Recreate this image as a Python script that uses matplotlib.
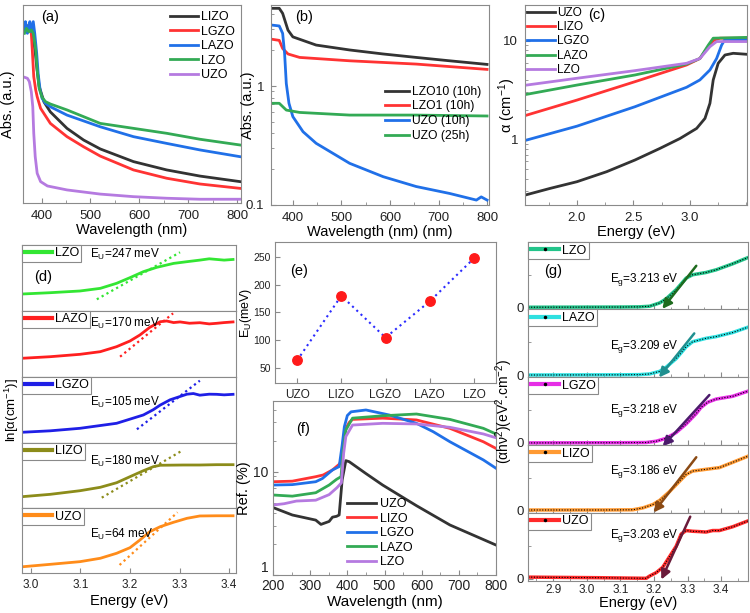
import matplotlib
matplotlib.use('Agg')
import matplotlib.pyplot as plt
from matplotlib.lines import Line2D
from matplotlib.ticker import MultipleLocator, FixedLocator, NullFormatter, LogLocator

plt.rcParams['font.family'] = ['Liberation Sans', 'DejaVu Sans']
plt.rcParams['mathtext.default'] = 'regular'
plt.rcParams['axes.edgecolor'] = '#8a8a8a'
plt.rcParams['axes.linewidth'] = 0.8
plt.rcParams['xtick.direction'] = 'in'
plt.rcParams['ytick.direction'] = 'in'
plt.rcParams['xtick.color'] = '#8a8a8a'
plt.rcParams['ytick.color'] = '#8a8a8a'
plt.rcParams['xtick.labelcolor'] = '#222222'
plt.rcParams['ytick.labelcolor'] = '#222222'

# ---------------- data ----------------
# (a) absorbance, arbitrary units
a_lizo_wl = [365, 369, 372, 375, 378, 381, 384, 388, 390, 395, 405, 418, 452, 486, 520, 588, 656, 724, 806]
a_lizo = [0.882, 0.899, 0.865, 0.894, 0.874, 0.865, 0.82, 0.74, 0.69, 0.59, 0.51, 0.46, 0.377, 0.318, 0.273, 0.209, 0.167, 0.136, 0.108]
a_lgzo_wl = [365, 371, 376, 379, 381, 384, 388, 391, 398, 418, 452, 486, 520, 588, 656, 724, 806]
a_lgzo = [0.874, 0.890, 0.87, 0.857, 0.773, 0.638, 0.571, 0.537, 0.478, 0.402, 0.335, 0.284, 0.237, 0.167, 0.125, 0.096, 0.074]
a_lazo_wl = [365, 367, 371, 374, 376, 379, 383, 386, 390, 393, 397, 401, 408, 418, 452, 520, 588, 656, 724, 806]
a_lazo = [0.865, 0.916, 0.857, 0.890, 0.916, 0.865, 0.916, 0.857, 0.756, 0.654, 0.571, 0.529, 0.503, 0.486, 0.444, 0.385, 0.335, 0.301, 0.268, 0.234]
a_lzo_wl = [365, 369, 374, 379, 383, 388, 391, 395, 401, 408, 418, 452, 520, 588, 656, 724, 806]
a_lzo = [0.857, 0.882, 0.865, 0.874, 0.857, 0.773, 0.672, 0.579, 0.534, 0.512, 0.5, 0.47, 0.402, 0.377, 0.352, 0.322, 0.293]
a_uzo_wl = [365, 371, 375, 379, 382, 384, 387, 391, 398, 412, 452, 520, 588, 656, 724, 806]
a_uzo = [0.635, 0.630, 0.613, 0.562, 0.486, 0.352, 0.234, 0.150, 0.108, 0.086, 0.066, 0.045, 0.032, 0.024, 0.019, 0.019]

# (b) absorbance, log scale
b_lzo10_wl = [355, 372, 379, 390, 400, 448, 517, 586, 654, 723, 800]
b_lzo10 = [4.5, 4.5, 4.08, 2.95, 2.59, 2.21, 2.01, 1.86, 1.74, 1.63, 1.52]
b_lzo1_wl = [355, 372, 379, 390, 414, 517, 654, 800]
b_lzo1 = [2.48, 2.42, 2.07, 1.86, 1.74, 1.63, 1.53, 1.38]
b_uzo10_wl = [355, 372, 379, 383, 386.5, 392, 400, 421, 448, 517, 586, 654, 723, 778, 788, 800]
b_uzo10 = [3.26, 3.2, 2.77, 1.88, 1.05, 0.716, 0.553, 0.413, 0.33, 0.224, 0.173, 0.143, 0.125, 0.11, 0.117, 0.11]
b_uzo25_wl = [355, 372, 386.5, 414, 517, 654, 800]
b_uzo25 = [0.716, 0.716, 0.628, 0.6, 0.57, 0.57, 0.56]

# (c) absorption coefficient vs energy
c_uzo_e = [1.54, 1.761, 2.0, 2.263, 2.513, 2.735, 2.912, 3.059, 3.133, 3.177, 3.206, 3.25, 3.31, 3.383, 3.502]
c_uzo = [0.272, 0.318, 0.372, 0.47, 0.617, 0.81, 1.02, 1.29, 1.63, 2.32, 4.0, 5.9, 7.16, 7.45, 7.28]
c_lizo_e = [1.555, 2.0, 2.513, 2.97, 3.088, 3.162, 3.206, 3.265, 3.502]
c_lizo = [1.76, 2.5, 3.84, 5.67, 6.6, 8.7, 10.0, 10.6, 10.6]
c_lgzo_e = [1.555, 2.0, 2.513, 2.97, 3.088, 3.177, 3.236, 3.28, 3.31, 3.502]
c_lgzo = [0.984, 1.36, 2.14, 3.37, 4.0, 5.05, 6.6, 9.0, 10.3, 10.2]
c_lazo_e = [1.555, 2.0, 2.513, 2.97, 3.088, 3.162, 3.206, 3.502]
c_lazo = [2.86, 3.55, 4.49, 5.8, 6.6, 9.0, 10.6, 10.8]
c_lzo_e = [1.555, 2.0, 2.513, 2.97, 3.088, 3.177, 3.236, 3.502]
c_lzo = [3.55, 4.16, 4.97, 5.9, 6.6, 8.7, 9.8, 9.8]

# (d) ln(alpha), normalised in each strip
d_names = ['LZO', 'LAZO', 'LGZO', 'LIZO', 'UZO']
d_colors = ['#33e633', '#ff1f1f', '#1f1fe6', '#8c8c1a', '#ff8c1a']
d_eu = ['247', '170', '105', '180', '64']
d_x = [
    [2.982, 3.039, 3.099, 3.14, 3.173, 3.2, 3.227, 3.254, 3.288, 3.315, 3.341, 3.36, 3.375, 3.39, 3.408],
    [2.982, 3.039, 3.099, 3.14, 3.173, 3.2, 3.22, 3.24, 3.261, 3.274, 3.288, 3.301, 3.32, 3.341, 3.36, 3.375, 3.39, 3.408],
    [2.982, 3.039, 3.099, 3.173, 3.227, 3.247, 3.261, 3.281, 3.301, 3.315, 3.328, 3.341, 3.36, 3.375, 3.39, 3.408],
    [2.982, 3.039, 3.099, 3.14, 3.173, 3.2, 3.227, 3.247, 3.261, 3.308, 3.341, 3.375, 3.408],
    [2.982, 3.039, 3.099, 3.14, 3.173, 3.2, 3.22, 3.24, 3.261, 3.288, 3.315, 3.341, 3.375, 3.408],
]
d_y = [
    [0.254, 0.274, 0.30, 0.34, 0.417, 0.503, 0.594, 0.66, 0.72, 0.746, 0.77, 0.79, 0.78, 0.77, 0.78],
    [0.279, 0.303, 0.339, 0.379, 0.455, 0.541, 0.632, 0.748, 0.833, 0.844, 0.82, 0.83, 0.81, 0.818, 0.80, 0.809, 0.82, 0.83],
    [0.158, 0.18, 0.218, 0.294, 0.42, 0.50, 0.57, 0.65, 0.70, 0.735, 0.745, 0.72, 0.735, 0.733, 0.725, 0.733],
    [0.177, 0.213, 0.268, 0.32, 0.39, 0.482, 0.573, 0.634, 0.656, 0.66, 0.66, 0.665, 0.665],
    [0.10, 0.138, 0.179, 0.231, 0.308, 0.394, 0.512, 0.64, 0.717, 0.785, 0.846, 0.882, 0.885, 0.885],
]
d_fit_x = [[3.133, 3.301], [3.18, 3.287], [3.214, 3.341], [3.143, 3.304], [3.179, 3.296]]
d_fit_y = [[0.173, 0.889], [0.303, 0.96], [0.203, 0.94], [0.162, 0.874], [0.128, 0.938]]
d_txt_y = [0.85, 0.81, 0.617, 0.72, 0.59]

# (e) Urbach energy
e_samples = ['UZO', 'LIZO', 'LGZO', 'LAZO', 'LZO']
e_eu = [64, 180, 105, 170, 247]

# (f) reflectance
f_uzo_wl = [200, 252, 315, 329, 351, 360, 371, 378, 386, 396, 405, 450, 495, 586, 676, 800]
f_uzo = [4.5, 3.81, 3.4, 3.09, 3.3, 3.63, 3.7, 3.81, 8.3, 12.8, 12.5, 9.6, 7.43, 4.69, 3.05, 1.95]
f_lizo_wl = [200, 252, 315, 335, 360, 378, 386, 393, 405, 414, 495, 586, 676, 766, 800]
f_lizo = [8.0, 8.1, 8.95, 9.3, 10.4, 11.8, 13, 25, 30, 32.1, 33.0, 31.7, 26.3, 19.5, 16.8]
f_lgzo_wl = [200, 252, 315, 333, 360, 378, 386, 392, 400, 410, 450, 513, 586, 631, 676, 766, 800]
f_lgzo = [7.43, 7.5, 8.0, 8.6, 10.4, 11.2, 18, 27.3, 35, 38, 39.6, 35.4, 29.4, 24.4, 19.5, 13.0, 10.8]
f_lazo_wl = [200, 252, 315, 351, 371, 383, 389, 396, 414, 495, 586, 676, 766, 800]
f_lazo = [5.95, 5.8, 6.26, 7.43, 8.44, 8.95, 16.2, 25.3, 33.0, 34.8, 36.2, 32.1, 26.3, 23.2]
f_lzo_wl = [200, 230, 263, 315, 351, 372, 384, 390, 396, 414, 495, 586, 676, 766, 800]
f_lzo = [4.76, 4.9, 5.2, 5.3, 6.0, 7.0, 7.8, 15, 21.9, 28.3, 29.4, 29, 26.9, 23.2, 21.3]

# (g) Tauc plots, normalised in each strip
g_names = ['LZO', 'LAZO', 'LGZO', 'LIZO', 'UZO']
g_colors = ['#22c48a', '#2ee0e0', '#e62ee6', '#ff9a33', '#ff2a2a']
g_fit_colors = ['#1e6b1e', '#1f8f8f', '#4b1a6b', '#8b4a14', '#6a1b3a']
g_eg = ['3.213', '3.209', '3.218', '3.186', '3.203']
g_x = [
    [2.826, 3.1, 3.157, 3.187, 3.217, 3.236, 3.266, 3.296, 3.315, 3.355, 3.385, 3.434, 3.48],
    [2.826, 3.1, 3.157, 3.187, 3.217, 3.236, 3.266, 3.296, 3.315, 3.355, 3.385, 3.434, 3.48],
    [2.826, 3.1, 3.177, 3.207, 3.236, 3.266, 3.296, 3.326, 3.34, 3.36, 3.385, 3.434, 3.48],
    [2.826, 3.05, 3.137, 3.167, 3.197, 3.217, 3.246, 3.276, 3.296, 3.315, 3.355, 3.395, 3.434, 3.48],
    [2.826, 3.039, 3.177, 3.187, 3.207, 3.226, 3.246, 3.266, 3.281, 3.296, 3.315, 3.335, 3.355, 3.375, 3.395, 3.434, 3.48],
]
g_y = [
    [0, 0.003, 0.006, 0.015, 0.066, 0.128, 0.27, 0.449, 0.5, 0.535, 0.576, 0.668, 0.765],
    [0, 0.003, 0.006, 0.016, 0.056, 0.118, 0.249, 0.43, 0.508, 0.56, 0.586, 0.648, 0.73],
    [0, 0.003, 0.006, 0.026, 0.069, 0.158, 0.29, 0.448, 0.54, 0.62, 0.668, 0.71, 0.789],
    [0.011, 0.011, 0.014, 0.043, 0.095, 0.158, 0.29, 0.448, 0.553, 0.605, 0.632, 0.658, 0.737, 0.832],
    [0.024, 0.015, 0.006, 0.04, 0.093, 0.173, 0.333, 0.493, 0.68, 0.733, 0.722, 0.717, 0.71, 0.733, 0.733, 0.79, 0.88],
]
g_fit_top = [(3.326, 0.638), (3.32, 0.635), (3.365, 0.73), (3.326, 0.816), (3.308, 0.944)]
g_fit_bot = [(3.225, -0.025), (3.215, -0.037), (3.226, -0.052), (3.199, -0.027), (3.222, -0.013)]
g_txt_y = [0.42, 0.43, 0.5, 0.605, 0.65]

# ---------------- figure ----------------
W, H = 750, 613
fig = plt.figure(figsize=(7.5, 6.13), dpi=100)


def box(l, t, r, b):
    return fig.add_axes([l / W, 1 - b / H, (r - l) / W, (b - t) / H])


K, R, B, G, P = '#333333', '#ff3333', '#2070e8', '#33aa55', '#b57ae0'

# (a)
ax = box(23, 5, 241, 203)
ax.plot(a_lizo_wl, a_lizo, color=K, lw=2, label='LIZO')
ax.plot(a_lgzo_wl, a_lgzo, color=R, lw=2, label='LGZO')
ax.plot(a_lazo_wl, a_lazo, color=B, lw=2, label='LAZO')
ax.plot(a_lzo_wl, a_lzo, color=G, lw=2, label='LZO')
ax.plot(a_uzo_wl, a_uzo, color=P, lw=2, label='UZO')
ax.set_xlim(362, 808)
ax.set_ylim(0, 1)
ax.set_yticks([])
ax.xaxis.set_major_locator(MultipleLocator(100))
ax.xaxis.set_minor_locator(MultipleLocator(50))
ax.tick_params(labelsize=9.5, pad=5)
ax.set_xlabel('Wavelength (nm)', fontsize=10.5, labelpad=1)
ax.set_ylabel('Abs. (a.u.)', fontsize=10.5)
ax.yaxis.set_label_coords(-0.035, 0.5)
ax.legend(loc='upper right', frameon=False, fontsize=9, handlelength=2.2,
          labelspacing=0.2, borderaxespad=0.1, handletextpad=0.25)
ax.text(0.124, 0.94, '(a)', transform=ax.transAxes, fontsize=10.5, ha='center', va='center')

# (b)
ax = box(271, 5, 489, 205)
ax.plot(b_lzo10_wl, b_lzo10, color=K, lw=2, label='LZO10 (10h)')
ax.plot(b_lzo1_wl, b_lzo1, color=R, lw=2, label='LZO1 (10h)')
ax.plot(b_uzo10_wl, b_uzo10, color=B, lw=2, label='UZO (10h)')
ax.plot(b_uzo25_wl, b_uzo25, color=G, lw=2, label='UZO (25h)')
ax.set_yscale('log')
ax.set_ylim(0.1, 4.8)
ax.set_xlim(355, 804)
ax.yaxis.set_major_locator(FixedLocator([0.1, 1]))
ax.set_yticklabels(['0.1', '1'])
ax.yaxis.set_minor_locator(LogLocator(subs=range(2, 10)))
ax.yaxis.set_minor_formatter(NullFormatter())
ax.xaxis.set_major_locator(MultipleLocator(100))
ax.xaxis.set_minor_locator(MultipleLocator(50))
ax.tick_params(labelsize=9.5, pad=5)
ax.set_xlabel('Wavelength (nm) (nm)', fontsize=10.5, labelpad=1)
ax.set_ylabel('Abs. (a.u.)', fontsize=10.5)
ax.yaxis.set_label_coords(-0.072, 0.5)
ax.legend(loc='upper left', bbox_to_anchor=(0.5, 0.62), frameon=False, fontsize=8.7,
          handlelength=2.0, labelspacing=0.22, borderaxespad=0, handletextpad=0.25)
ax.text(0.151, 0.94, '(b)', transform=ax.transAxes, fontsize=10.5, ha='center', va='center')

# (c)
ax = box(525, 5, 747, 205)
ax.plot(c_uzo_e, c_uzo, color=K, lw=2, label='UZO')
ax.plot(c_lizo_e, c_lizo, color=R, lw=2, label='LIZO')
ax.plot(c_lgzo_e, c_lgzo, color=B, lw=2, label='LGZO')
ax.plot(c_lazo_e, c_lazo, color=G, lw=2, label='LAZO')
ax.plot(c_lzo_e, c_lzo, color=P, lw=2, label='LZO')
ax.set_yscale('log')
ax.set_ylim(0.216, 23)
ax.set_xlim(1.54, 3.505)
ax.yaxis.set_major_locator(FixedLocator([1, 10]))
ax.set_yticklabels(['1', '10'])
ax.yaxis.set_minor_locator(LogLocator(subs=range(2, 10)))
ax.yaxis.set_minor_formatter(NullFormatter())
ax.xaxis.set_major_locator(FixedLocator([2.0, 2.5, 3.0]))
ax.set_xticklabels(['2.0', '2.5', '3.0'])
ax.xaxis.set_minor_locator(MultipleLocator(0.25))
ax.tick_params(labelsize=9.5, pad=5)
ax.set_xlabel('Energy (eV)', fontsize=10.5, labelpad=1)
ax.set_ylabel('α (cm$^{-1}$)', fontsize=10.5)
ax.yaxis.set_label_coords(-0.03, 0.5)
ax.legend(loc='upper left', frameon=False, fontsize=8.5, handlelength=2.4,
          labelspacing=0.2, borderaxespad=0, borderpad=0.15, handletextpad=0.2)
ax.text(0.324, 0.95, '(c)', transform=ax.transAxes, fontsize=10.5, ha='center', va='center')

# (d)
d_tops = [245, 310.7, 376.7, 442.7, 508.3, 573.3]
for i in range(5):
    ax = box(22, d_tops[i], 236, d_tops[i + 1])
    c = d_colors[i]
    ax.plot(d_x[i], d_y[i], color=c, lw=2)
    ax.plot(d_fit_x[i], d_fit_y[i], color=c, lw=1.6, linestyle=(0, (1, 1.5)))
    ax.set_xlim(2.982, 3.414)
    ax.set_ylim(0, 1)
    ax.set_yticks([])
    ax.xaxis.set_major_locator(MultipleLocator(0.1))
    ax.xaxis.set_major_formatter(plt.FuncFormatter(lambda v, p: '%.1f' % v))
    if i < 4:
        ax.tick_params(bottom=False, labelbottom=False)
    else:
        ax.tick_params(labelsize=8.5, pad=4)
        ax.set_xlabel('Energy (eV)', fontsize=10.5, labelpad=2)
    leg = ax.legend(handles=[Line2D([], [], color=c, lw=3)], labels=[d_names[i]],
                    loc='upper left', borderaxespad=0, fancybox=False, edgecolor='#8a8a8a',
                    framealpha=1, fontsize=9, handlelength=2.2, borderpad=0.2, handletextpad=0.2)
    leg.get_frame().set_linewidth(0.8)
    ax.text(3.12, d_txt_y[i], 'E$_U$=%s meV' % d_eu[i], fontsize=8.5, ha='left', va='center')
    if i == 0:
        ax.text(0.1, 0.52, '(d)', transform=ax.transAxes, fontsize=10.5, ha='center', va='center')
    if i == 2:
        ax.set_ylabel('ln[α(cm$^{-1}$)]', fontsize=9.5)
        ax.yaxis.set_label_coords(-0.004, 0.5)

# (e)
ax = box(275, 241.7, 496, 383.3)
idx = list(range(len(e_samples)))
ax.plot(idx, e_eu, color='#2b2bff', lw=1.5, linestyle=(0, (1, 1.8)))
ax.plot(idx, e_eu, 'o', color='#ff1a1a', ms=6.8, mec='#ff1a1a')
ax.set_xlim(-0.5, 4.5)
ax.set_ylim(23, 277)
ax.set_xticks(idx)
ax.set_xticklabels(e_samples)
ax.set_yticks([50, 100, 150, 200, 250])
ax.tick_params(axis='y', labelsize=7.5, pad=3)
ax.tick_params(axis='x', labelsize=8.5, pad=4)
ax.set_ylabel('E$_U$(meV)', fontsize=9)
ax.yaxis.set_label_coords(-0.095, 0.5)
ax.text(0.11, 0.795, '(e)', transform=ax.transAxes, fontsize=10.5, ha='center', va='center')

# (f)
ax = box(273, 400.7, 496, 575)
ax.plot(f_uzo_wl, f_uzo, color=K, lw=2, label='UZO')
ax.plot(f_lizo_wl, f_lizo, color=R, lw=2, label='LIZO')
ax.plot(f_lgzo_wl, f_lgzo, color=B, lw=2, label='LGZO')
ax.plot(f_lazo_wl, f_lazo, color=G, lw=2, label='LAZO')
ax.plot(f_lzo_wl, f_lzo, color=P, lw=2, label='LZO')
ax.set_yscale('log')
ax.set_ylim(1, 48.7)
ax.set_xlim(200, 800)
ax.yaxis.set_major_locator(FixedLocator([1, 10]))
ax.set_yticklabels(['1', '10'])
ax.yaxis.set_minor_locator(LogLocator(subs=range(2, 10)))
ax.yaxis.set_minor_formatter(NullFormatter())
ax.xaxis.set_major_locator(MultipleLocator(100))
ax.xaxis.set_minor_locator(MultipleLocator(50))
ax.tick_params(labelsize=10, pad=3)
ax.get_yticklabels()[0].set_va('bottom')
ax.set_xlabel('Wavelength (nm)', fontsize=11, labelpad=1)
ax.set_ylabel('Ref. (%)', fontsize=10.5)
ax.yaxis.set_label_coords(-0.1, 0.5)
ax.legend(loc='upper left', bbox_to_anchor=(0.31, 0.47), frameon=False, fontsize=9,
          handlelength=2.3, labelspacing=0.2, borderaxespad=0, handletextpad=0.3)
ax.text(0.136, 0.84, '(f)', transform=ax.transAxes, fontsize=10.5, ha='center', va='center')

# (g)
g_tops = [242.3, 309.5, 377.3, 445.2, 513, 581]
for i in range(5):
    ax = box(528, g_tops[i], 748, g_tops[i + 1])
    c = g_colors[i]
    ax.plot(g_x[i], g_y[i], color=c, lw=2.5)
    ax.plot(g_x[i], g_y[i], color='k', lw=0.8, linestyle=(0, (1, 1.5)))
    ax.annotate('', xy=g_fit_bot[i], xytext=g_fit_top[i], annotation_clip=False,
                arrowprops=dict(arrowstyle='-|>', color=g_fit_colors[i], lw=1.8,
                                mutation_scale=14, shrinkA=0, shrinkB=0))
    ax.set_xlim(2.825, 3.48)
    ax.set_ylim(-0.035, 1.0)
    ax.set_yticks([0])
    ax.set_yticklabels(['0'])
    ax.yaxis.set_minor_locator(FixedLocator([0.5]))
    ax.xaxis.set_major_locator(FixedLocator([2.9, 3.0, 3.1, 3.2, 3.3, 3.4]))
    ax.xaxis.set_minor_locator(MultipleLocator(0.05))
    ax.xaxis.set_major_formatter(plt.FuncFormatter(lambda v, p: '%.1f' % v))
    ax.tick_params(axis='y', labelsize=9.5, pad=3)
    if i < 4:
        ax.tick_params(axis='x', labelbottom=False)
    else:
        ax.tick_params(axis='x', labelsize=8.5, pad=2.5)
        ax.set_xlabel('Energy (eV)', fontsize=10.5, labelpad=0)
    h = Line2D([], [], color=c, lw=3, marker='.', mfc='k', mec='k', ms=3)
    leg = ax.legend(handles=[h], labels=[g_names[i]], loc='upper left', borderaxespad=0,
                    fancybox=False, edgecolor='#8a8a8a', framealpha=1, fontsize=9,
                    handlelength=2.3, borderpad=0.2, handletextpad=0.2, numpoints=1)
    leg.get_frame().set_linewidth(0.8)
    ax.text(3.068, g_txt_y[i], 'E$_g$=%s eV' % g_eg[i], fontsize=8.5, ha='left', va='center')
    if i == 0:
        ax.text(0.114, 0.576, '(g)', transform=ax.transAxes, fontsize=10.5, ha='center', va='center')
    if i == 2:
        ax.set_ylabel('(αhν$^2$)(eV$^2$.cm$^{-2}$)', fontsize=10)
        ax.yaxis.set_label_coords(-0.06, 0.5)

fig.savefig('out.png', dpi=100)
